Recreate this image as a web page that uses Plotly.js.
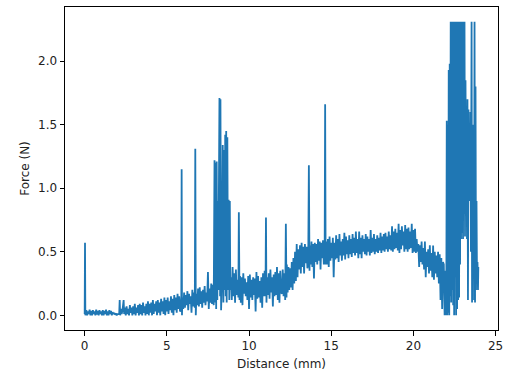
<!DOCTYPE html>
<html>
<head>
<meta charset="utf-8">
<script src="https://cdn.plot.ly/plotly-3.0.1.min.js"></script>
<style>html,body{margin:0;padding:0;background:#fff;}#chart{width:513px;height:371px;}</style>
</head>
<body>
<div id="chart"></div>
<script>
// Segment 1: start spike and flat baseline
var dist1 = [0, 0.02, 0.04, 0.1, 0.15, 0.2, 0.25, 0.3, 0.35, 0.4, 0.45, 0.5, 0.55, 0.6, 0.65, 0.7, 0.75, 0.8, 0.85, 0.9, 0.95, 1.0, 1.05, 1.1, 1.15, 1.2, 1.25, 1.3, 1.35, 1.4, 1.45, 1.5, 1.55, 1.6, 1.65, 1.7, 1.75, 1.8, 1.85, 1.9, 1.95, 2.0, 2.1, 2.13, 2.16, 2.2, 2.25, 2.3, 2.37, 2.4];
var force1 = [0.01, 0.57, 0.0, 0.04, 0.0, 0.03, 0.01, 0.045, 0.0, 0.035, 0.0, 0.04, 0.01, 0.03, 0.0, 0.045, 0.005, 0.035, 0.0, 0.04, 0.01, 0.03, 0.0, 0.04, 0.0, 0.035, 0.01, 0.045, 0.0, 0.03, 0.0, 0.04, 0.01, 0.035, 0.0, 0.025, 0.01, 0.02, 0.005, 0.015, 0.0, 0.01, 0.01, 0.12, 0.0, 0.05, 0.01, 0.04, 0.12, 0.01];
// Segment 2: slowly rising band
var dist2 = [2.45, 2.5, 2.55, 2.6, 2.65, 2.7, 2.75, 2.8, 2.85, 2.9, 2.95, 3.0, 3.05, 3.1, 3.15, 3.2, 3.25, 3.3, 3.35, 3.4, 3.45, 3.5, 3.55, 3.6, 3.65, 3.7, 3.75, 3.8, 3.85, 3.9, 3.95, 4.0, 4.05, 4.1, 4.15, 4.2, 4.25, 4.3, 4.35, 4.4, 4.45, 4.5, 4.55, 4.6, 4.65, 4.7, 4.75, 4.8, 4.85, 4.9, 4.95, 5.0, 5.05, 5.1, 5.15, 5.2, 5.25, 5.3, 5.35, 5.4, 5.45, 5.5, 5.55, 5.6, 5.65, 5.7, 5.75, 5.8];
var force2 = [0.06, 0.0, 0.07, 0.01, 0.05, 0.0, 0.08, 0.02, 0.06, 0.0, 0.07, 0.01, 0.09, 0.0, 0.06, 0.02, 0.08, 0.0, 0.09, 0.01, 0.08, 0.0, 0.1, 0.02, 0.07, 0.0, 0.09, 0.01, 0.11, 0.0, 0.09, 0.02, 0.1, 0.0, 0.12, 0.01, 0.09, 0.03, 0.11, 0.0, 0.12, 0.02, 0.1, 0.0, 0.13, 0.03, 0.11, 0.01, 0.14, 0.0, 0.12, 0.03, 0.14, 0.01, 0.11, 0.04, 0.15, 0.02, 0.13, 0.0, 0.16, 0.04, 0.14, 0.02, 0.17, 0.05, 0.15, 0.03];
// Segment 3: spikes near 5.9 and 6.7 mm
var dist3 = [5.85, 5.88, 5.9, 5.92, 5.95, 6.0, 6.05, 6.1, 6.15, 6.2, 6.25, 6.3, 6.35, 6.4, 6.45, 6.5, 6.55, 6.6, 6.65, 6.7, 6.73, 6.76, 6.8, 6.85, 6.9, 6.95, 7.0, 7.05, 7.1, 7.15, 7.2, 7.25, 7.3, 7.35, 7.4, 7.45, 7.5, 7.55, 7.6, 7.65, 7.7, 7.75, 7.8, 7.85];
var force3 = [0.04, 0.15, 1.15, 0.0, 0.14, 0.05, 0.18, 0.06, 0.16, 0.08, 0.19, 0.04, 0.17, 0.09, 0.15, 0.02, 0.2, 0.07, 0.18, 0.06, 1.31, 0.0, 0.17, 0.08, 0.21, 0.07, 0.22, 0.09, 0.19, 0.06, 0.2, 0.1, 0.23, 0.08, 0.18, 0.11, 0.34, 0.05, 0.21, 0.1, 0.25, 0.09, 0.24, 0.08];
// Segment 4: spike cluster around 8 - 8.9 mm
var dist4 = [7.9, 7.93, 7.96, 8.0, 8.03, 8.07, 8.1, 8.13, 8.2, 8.24, 8.26, 8.3, 8.35, 8.4, 8.44, 8.48, 8.52, 8.55, 8.58, 8.61, 8.64, 8.68, 8.72, 8.76, 8.8, 8.83, 8.86];
var force4 = [1.22, 0.1, 1.2, 0.05, 1.21, 0.12, 0.9, 0.2, 1.71, 0.15, 1.7, 0.04, 0.3, 1.34, 0.1, 1.3, 0.2, 1.42, 0.15, 1.45, 0.1, 1.4, 0.2, 0.91, 0.12, 0.9, 0.2];
// Segment 5: band 8.9 - 14.7 mm with isolated spikes
var dist5 = [8.9, 8.95, 9.0, 9.05, 9.1, 9.15, 9.2, 9.25, 9.3, 9.35, 9.38, 9.42, 9.45, 9.5, 9.55, 9.6, 9.65, 9.7, 9.75, 9.8, 9.85, 9.9, 9.95, 10.0, 10.05, 10.1, 10.15, 10.2, 10.25, 10.3, 10.35, 10.4, 10.45, 10.5, 10.55, 10.6, 10.65, 10.7, 10.75, 10.8, 10.85, 10.9, 10.95, 11.0, 11.03, 11.06, 11.1, 11.15, 11.2, 11.25, 11.3, 11.35, 11.4, 11.45, 11.5, 11.55, 11.6, 11.65, 11.7, 11.75, 11.8, 11.85, 11.9, 11.95, 12.0, 12.05, 12.1, 12.15, 12.2, 12.24, 12.28, 12.3, 12.35, 12.4, 12.45, 12.5, 12.55, 12.6, 12.65, 12.7, 12.75, 12.8, 12.85, 12.9, 12.95, 13.0, 13.05, 13.1, 13.15, 13.2, 13.25, 13.3, 13.35, 13.4, 13.45, 13.5, 13.55, 13.6, 13.64, 13.68, 13.7, 13.75, 13.8, 13.85, 13.9, 13.95, 14.0, 14.05, 14.1, 14.15, 14.2, 14.25, 14.3, 14.35, 14.4, 14.45, 14.5, 14.55, 14.6, 14.63, 14.66];
var force5 = [0.3, 0.12, 0.38, 0.15, 0.33, 0.1, 0.36, 0.16, 0.28, 0.14, 0.81, 0.12, 0.31, 0.1, 0.3, 0.08, 0.33, 0.17, 0.29, 0.15, 0.26, 0.12, 0.31, 0.05, 0.32, 0.14, 0.28, 0.12, 0.3, 0.16, 0.29, 0.03, 0.34, 0.13, 0.31, 0.14, 0.27, 0.1, 0.3, 0.06, 0.33, 0.15, 0.35, 0.15, 0.77, 0.1, 0.3, 0.16, 0.33, 0.13, 0.36, 0.18, 0.3, 0.07, 0.32, 0.15, 0.34, 0.16, 0.38, 0.12, 0.33, 0.1, 0.35, 0.18, 0.17, 0.36, 0.15, 0.33, 0.12, 0.72, 0.14, 0.4, 0.18, 0.38, 0.2, 0.37, 0.22, 0.42, 0.2, 0.45, 0.25, 0.5, 0.27, 0.56, 0.3, 0.52, 0.36, 0.55, 0.33, 0.57, 0.38, 0.54, 0.33, 0.56, 0.41, 0.54, 0.37, 0.4, 1.18, 0.35, 0.55, 0.4, 0.58, 0.38, 0.56, 0.29, 0.57, 0.42, 0.56, 0.4, 0.6, 0.43, 0.58, 0.36, 0.57, 0.45, 0.59, 0.4, 0.44, 1.66, 0.4];
// Segment 6: plateau 14.7 - 22 mm
var dist6 = [14.7, 14.75, 14.8, 14.85, 14.9, 14.95, 15.0, 15.05, 15.1, 15.15, 15.2, 15.25, 15.3, 15.35, 15.4, 15.45, 15.5, 15.55, 15.6, 15.65, 15.7, 15.75, 15.8, 15.85, 15.9, 15.95, 16.0, 16.05, 16.1, 16.15, 16.2, 16.25, 16.3, 16.35, 16.4, 16.45, 16.5, 16.55, 16.6, 16.65, 16.7, 16.75, 16.8, 16.85, 16.9, 16.95, 17.0, 17.05, 17.1, 17.15, 17.2, 17.25, 17.3, 17.35, 17.4, 17.45, 17.5, 17.55, 17.6, 17.65, 17.7, 17.75, 17.8, 17.85, 17.9, 17.95, 18.0, 18.05, 18.1, 18.15, 18.2, 18.25, 18.3, 18.35, 18.4, 18.45, 18.5, 18.55, 18.6, 18.65, 18.7, 18.75, 18.8, 18.85, 18.9, 18.95, 19.0, 19.05, 19.1, 19.15, 19.2, 19.25, 19.3, 19.35, 19.4, 19.45, 19.5, 19.55, 19.6, 19.65, 19.7, 19.75, 19.8, 19.85, 19.9, 19.95, 20.0, 20.05, 20.1, 20.15, 20.2, 20.25, 20.3, 20.35, 20.4, 20.45, 20.5, 20.55, 20.6, 20.65, 20.7, 20.75, 20.8, 20.85, 20.9, 20.95, 21.0, 21.05, 21.1, 21.15, 21.2, 21.25, 21.3, 21.35, 21.4, 21.45, 21.5, 21.55, 21.6, 21.65, 21.7, 21.75, 21.8, 21.85, 21.9, 21.95, 22.0];
var force6 = [0.58, 0.4, 0.6, 0.38, 0.62, 0.43, 0.57, 0.45, 0.61, 0.3, 0.57, 0.44, 0.63, 0.45, 0.6, 0.42, 0.64, 0.47, 0.58, 0.43, 0.6, 0.47, 0.65, 0.44, 0.62, 0.48, 0.59, 0.45, 0.63, 0.48, 0.6, 0.46, 0.64, 0.49, 0.61, 0.47, 0.66, 0.49, 0.6, 0.45, 0.66, 0.48, 0.61, 0.45, 0.63, 0.5, 0.6, 0.48, 0.64, 0.47, 0.62, 0.5, 0.6, 0.47, 0.67, 0.49, 0.61, 0.5, 0.64, 0.48, 0.6, 0.5, 0.63, 0.49, 0.61, 0.51, 0.65, 0.49, 0.62, 0.51, 0.64, 0.5, 0.65, 0.52, 0.62, 0.5, 0.66, 0.52, 0.63, 0.51, 0.7, 0.5, 0.66, 0.52, 0.68, 0.53, 0.65, 0.51, 0.72, 0.49, 0.67, 0.52, 0.7, 0.55, 0.66, 0.5, 0.71, 0.52, 0.68, 0.5, 0.69, 0.52, 0.66, 0.53, 0.72, 0.49, 0.67, 0.5, 0.68, 0.49, 0.6, 0.5, 0.56, 0.38, 0.55, 0.42, 0.58, 0.4, 0.53, 0.36, 0.58, 0.3, 0.5, 0.38, 0.52, 0.33, 0.55, 0.35, 0.49, 0.3, 0.55, 0.28, 0.5, 0.33, 0.47, 0.3, 0.5, 0.25, 0.48, 0.12, 0.45, 0.05, 0.42, 0.4, 0.0, 0.35, 0.0];
// Segment 7: large oscillations at the end (clipped at 2.31 N)
var dist7 = [22.03, 22.06, 22.09, 22.12, 22.15, 22.18, 22.21, 22.24, 22.27, 22.3, 22.33, 22.36, 22.39, 22.42, 22.45, 22.48, 22.51, 22.54, 22.57, 22.6, 22.63, 22.66, 22.69, 22.72, 22.75, 22.78, 22.81, 22.84, 22.87, 22.9, 22.93, 22.96, 22.99, 23.02, 23.05, 23.08, 23.11, 23.14, 23.17, 23.2, 23.23, 23.26, 23.29, 23.32, 23.35, 23.38, 23.41, 23.44, 23.47, 23.5, 23.54, 23.57, 23.6, 23.63, 23.66, 23.69, 23.72, 23.75, 23.78, 23.81, 23.84, 23.87, 23.9, 23.93, 23.95];
var force7 = [1.53, 0.0, 1.5, 0.02, 1.93, 0.0, 1.98, 0.15, 2.31, 0.1, 2.31, 0.2, 2.31, 0.08, 2.31, 0.0, 2.31, 0.3, 2.31, 0.0, 2.31, 0.05, 2.31, 0.12, 2.31, 0.14, 2.31, 0.4, 2.31, 0.6, 2.31, 0.65, 2.31, 0.6, 2.31, 0.8, 2.31, 0.62, 1.85, 1.05, 1.61, 0.6, 1.7, 0.12, 1.62, 1.0, 1.3, 0.9, 1.6, 0.5, 2.31, 0.1, 1.5, 0.3, 1.2, 0.12, 2.31, 0.1, 1.8, 0.2, 0.9, 0.25, 0.42, 0.2, 0.38];

var xTickVals = [0, 5, 10, 15, 20, 25];
var xTickText = ['0', '5', '10', '15', '20', '25'];
var yTickVals = [0, 0.5, 1, 1.5, 2];
var yTickText = ['0.0', '0.5', '1.0', '1.5', '2.0'];
var xLabel = 'Distance (mm)';
var yLabel = 'Force (N)';

var distance = [].concat(dist1, dist2, dist3, dist4, dist5, dist6, dist7);
var force = [].concat(force1, force2, force3, force4, force5, force6, force7);

var trace = {
  x: distance, y: force, type: 'scatter', mode: 'lines',
  line: {color: '#1f77b4', width: 1.8}, hoverinfo: 'skip'
};

var textFont = {family: 'DejaVu Sans', size: 12, color: '#222'};

var axisCommon = {
  ticks: 'outside', ticklen: 4.5, tickwidth: 1, tickcolor: '#000',
  showline: true, mirror: true, linecolor: '#000', linewidth: 1,
  showgrid: false, zeroline: false, tickmode: 'array',
  tickfont: textFont
};

var layout = {
  width: 513, height: 371,
  margin: {l: 65, r: 15, t: 7, b: 41, pad: 0},
  paper_bgcolor: '#fff', plot_bgcolor: '#fff',
  font: textFont,
  showlegend: false,
  xaxis: Object.assign({}, axisCommon, {
    range: [-1.1975, 25.1475], tickvals: xTickVals, ticktext: xTickText,
    title: {text: xLabel, font: textFont, standoff: 7}
  }),
  yaxis: Object.assign({}, axisCommon, {
    range: [-0.1155, 2.4255], tickvals: yTickVals, ticktext: yTickText,
    title: {text: yLabel, font: textFont, standoff: 5}
  })
};

Plotly.newPlot('chart', [trace], layout, {staticPlot: true, displayModeBar: false});
</script>
</body>
</html>
